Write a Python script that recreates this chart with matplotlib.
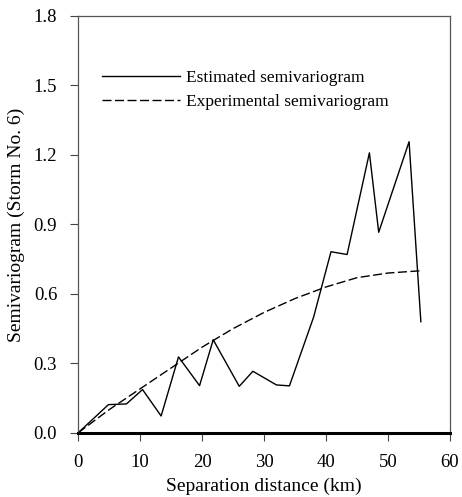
import matplotlib.pyplot as plt

# estimated semivariogram (solid)
est_x = [0, 4.9, 7.8, 10.4, 13.4, 16.2, 19.6, 21.8, 26.0, 28.2, 32.0, 34.1,
         38.0, 40.8, 43.4, 47.0, 48.5, 53.4, 55.3]
est_y = [0, 0.122, 0.125, 0.187, 0.073, 0.328, 0.204, 0.402, 0.201, 0.266,
         0.207, 0.203, 0.50, 0.782, 0.77, 1.209, 0.866, 1.257, 0.48]

# experimental semivariogram (dashed)
exp_x = [0, 5, 10, 15, 20, 25, 30, 35, 40, 45, 50, 55.3]
exp_y = [0, 0.10, 0.19, 0.28, 0.37, 0.45, 0.52, 0.58, 0.63, 0.67, 0.69, 0.70]

xticks = [0, 10, 20, 30, 40, 50, 60]
yticks = [0.0, 0.3, 0.6, 0.9, 1.2, 1.5, 1.8]

plt.rcParams["font.family"] = ["Liberation Serif", "DejaVu Serif"]

fig = plt.figure(figsize=(4.62, 4.97), dpi=100)
ax = fig.add_axes([0.169, 0.129, 0.805, 0.839])

ax.plot(est_x, est_y, color="black", lw=1.0, label="Estimated semivariogram")
ax.plot(exp_x, exp_y, color="black", lw=1.0, dashes=(6.5, 2.5),
        label="Experimental semivariogram")

ax.set_xlim(0, 60)
ax.set_ylim(0, 1.8)
ax.set_xticks(xticks)
ax.set_yticks(yticks)
ax.set_yticklabels([f"{v:.1f}" for v in yticks])
ax.tick_params(direction="out", length=6, width=0.8, color="#444444",
               labelsize=13.5)
ax.tick_params(axis="x", pad=9)
ax.tick_params(axis="y", pad=9)

for side in ["left", "top", "right"]:
    ax.spines[side].set_color("#555555")
    ax.spines[side].set_linewidth(0.9)
ax.spines["bottom"].set_color("black")
ax.spines["bottom"].set_linewidth(2.2)

ax.set_xlabel("Separation distance (km)", fontsize=14, labelpad=5)
ax.set_ylabel("Semivariogram (Storm No. 6)", fontsize=14, labelpad=6)

ax.legend(loc="upper left", bbox_to_anchor=(0.064, 0.87), frameon=False,
          fontsize=12.5, handlelength=4.5, handletextpad=0.35,
          labelspacing=0.45, borderaxespad=0, borderpad=0)

fig.savefig("out.png", dpi=100)
